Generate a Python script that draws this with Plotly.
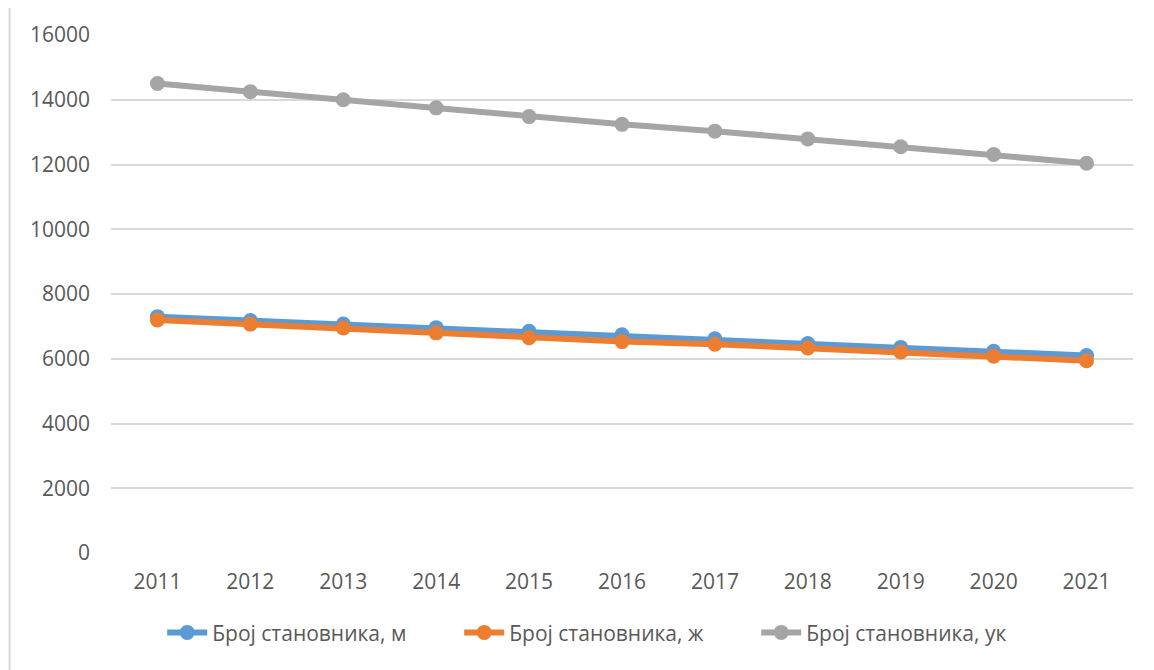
import plotly.graph_objects as go

years = ["2011", "2012", "2013", "2014", "2015", "2016", "2017", "2018", "2019", "2020", "2021"]
male = [7300, 7180, 7070, 6960, 6850, 6740, 6620, 6470, 6350, 6230, 6100]
female = [7200, 7070, 6950, 6800, 6650, 6530, 6450, 6330, 6210, 6080, 5940]
total = [14500, 14250, 14000, 13750, 13480, 13240, 13030, 12790, 12550, 12310, 12040]
names = ["Број становника, м", "Број становника, ж", "Број становника, ук"]
colors = ["#5B9BD5", "#ED7D31", "#A5A5A5"]

fig = go.Figure()
for vals, name, col in zip([male, female, total], names, colors):
    fig.add_trace(go.Scatter(
        x=years, y=vals, name=name, mode="lines+markers",
        line=dict(color=col, width=6),
        marker=dict(color=col, size=15),
    ))

font_family = "Open Sans, Liberation Sans, sans-serif"
fig.update_layout(
    width=1146, height=662,
    margin=dict(l=102.5, r=20.5, t=24, b=117),
    paper_bgcolor="white", plot_bgcolor="white",
    font=dict(family=font_family, size=21, color="#595959"),
    showlegend=True,
    legend=dict(orientation="h", x=0.486, xanchor="center", y=-0.154, yanchor="middle",
                font=dict(size=21, color="#595959"), entrywidth=242, entrywidthmode="pixels",
                itemwidth=40, traceorder="normal"),
    xaxis=dict(type="category", range=[-0.5, 10.5], showgrid=False, showline=False,
               zeroline=False, ticks="", ticklabelstandoff=14,
               tickfont=dict(size=21, color="#595959")),
    yaxis=dict(range=[0, 16000], dtick=2000, tick0=0, tickformat="d", showgrid=True,
               gridcolor="#D9D9D9", gridwidth=1.5, zeroline=False, showline=False, ticks="",
               ticklabelstandoff=20, tickfont=dict(size=21, color="#595959")),
    shapes=[dict(type="rect", xref="paper", yref="paper",
                 x0=-101.5 / 1023, x1=1.3, y0=-0.5, y1=1 + 29 / 521,
                 line=dict(color="#D9D9D9", width=2), fillcolor="rgba(0,0,0,0)", layer="below")],
)

fig.write_html("out.html")
